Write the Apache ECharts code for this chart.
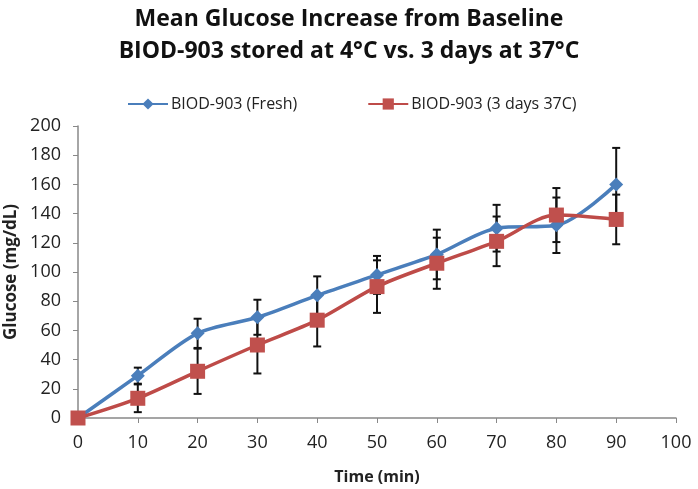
<!DOCTYPE html>
<html><head><meta charset="utf-8">
<script src="https://cdn.jsdelivr.net/npm/echarts@6/dist/echarts.min.js"></script>
<style>html,body{margin:0;padding:0;background:#fff}#c{width:698px;height:489px}</style>
</head><body><div id="c"></div>
<script>
var times = [0, 10, 20, 30, 40, 50, 60, 70, 80, 90];
var freshMean = [0, 29, 58, 69, 84, 98, 112, 130, 132, 160];
var freshErr = [0, 5.5, 10, 12, 13, 13, 17, 16, 19, 25];
var heatMean = [0, 13.5, 32, 50, 67, 90, 106, 121, 139, 136];
var heatErr = [0, 9.5, 15.5, 19.5, 18, 18, 17.5, 17, 18.5, 17];
var xTicks = [0, 10, 20, 30, 40, 50, 60, 70, 80, 90, 100];
var yTicks = [0, 20, 40, 60, 80, 100, 120, 140, 160, 180, 200];
var seriesNames = ['BIOD-903 (Fresh)', 'BIOD-903 (3 days 37C)'];
var titleLines = ['Mean Glucose Increase from Baseline', 'BIOD-903 stored at 4\u00B0C vs. 3 days at 37\u00B0C'];

function pairs(m) { return times.map(function (t, i) { return [t, m[i]]; }); }
function errData(m, e) {
  var out = [];
  times.forEach(function (t, i) { if (e[i] > 0) out.push([t, m[i] - e[i], m[i] + e[i]]); });
  return out;
}
function errRender(params, api) {
  var x = api.value(0);
  var lo = api.coord([x, api.value(1)]);
  var hi = api.coord([x, api.value(2)]);
  var w = 4;
  var st = { stroke: '#111', lineWidth: 2 };
  return { type: 'group', children: [
    { type: 'line', shape: { x1: lo[0], y1: lo[1], x2: hi[0], y2: hi[1] }, style: st },
    { type: 'line', shape: { x1: lo[0] - w, y1: lo[1], x2: lo[0] + w, y2: lo[1] }, style: st },
    { type: 'line', shape: { x1: hi[0] - w, y1: hi[1], x2: hi[0] + w, y2: hi[1] }, style: st }
  ]};
}
var font = 'Open Sans';
var chart = echarts.init(document.getElementById('c'));
chart.setOption({
  animation: false,
  textStyle: { fontFamily: font },
  title: {
    text: titleLines.join('\n'), left: 'center', top: -2,
    textStyle: { fontFamily: font, fontSize: 23, fontWeight: 'bold', color: '#111', lineHeight: 32 }
  },
  legend: {
    data: seriesNames, left: 122, top: 91, itemWidth: 40, itemHeight: 14, itemGap: 70,
    textStyle: { fontFamily: font, fontSize: 16, color: '#222', padding: [0, 0, 0, -2] }
  },
  grid: { left: 78, right: 22, top: 126, bottom: 71, outerBoundsMode: 'none', containLabel: false },
  xAxis: {
    type: 'value', min: 0, max: 100, interval: 10,
    name: 'Time (min)', nameLocation: 'middle', nameGap: 51,
    nameTextStyle: { fontFamily: font, fontSize: 16, fontWeight: 'bold', color: '#222' },
    axisLine: { lineStyle: { color: '#888', width: 1.5 } },
    axisTick: { show: true, length: 5, lineStyle: { color: '#888' } },
    axisLabel: { fontSize: 18, color: '#222', margin: 16,
      formatter: function (v) { return xTicks.indexOf(v) >= 0 ? String(v) : ''; } },
    splitLine: { show: false }
  },
  yAxis: {
    type: 'value', min: 0, max: 200, interval: 20,
    name: 'Glucose (mg/dL)', nameLocation: 'middle', nameGap: 52, nameRotate: 90,
    nameTextStyle: { fontFamily: font, fontSize: 17, fontWeight: 'bold', color: '#222' },
    axisLine: { show: true, lineStyle: { color: '#888', width: 1.5 } },
    axisTick: { show: true, length: 5, lineStyle: { color: '#888' } },
    axisLabel: { fontSize: 18, color: '#222', margin: 17,
      formatter: function (v) { return yTicks.indexOf(v) >= 0 ? String(v) : ''; } },
    splitLine: { show: false }
  },
  series: [
    { type: 'custom', renderItem: errRender, data: errData(freshMean, freshErr), z: 1, silent: true },
    { type: 'custom', renderItem: errRender, data: errData(heatMean, heatErr), z: 1, silent: true },
    { name: seriesNames[0], type: 'line', data: pairs(freshMean), smooth: 0.3, z: 3,
      symbol: 'diamond', symbolSize: 14,
      lineStyle: { color: '#4A7EBB', width: 3.5 },
      itemStyle: { color: '#4A7EBB' } },
    { name: seriesNames[1], type: 'line', data: pairs(heatMean), smooth: 0.3, z: 4,
      symbol: 'rect', symbolSize: 15,
      lineStyle: { color: '#BE4B48', width: 3.5 },
      itemStyle: { color: '#C0504D' } }
  ]
});
</script></body></html>
